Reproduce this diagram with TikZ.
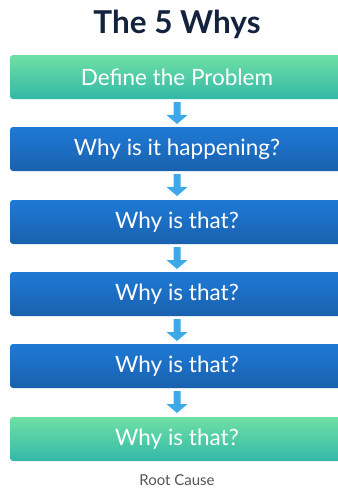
\documentclass[tikz,border=0pt]{standalone}
\usepackage{fontspec}
\setmainfont{Lato}
\usetikzlibrary{positioning}
\definecolor{navy}{HTML}{13233D}
\definecolor{gtop}{HTML}{6FE0A5}
\definecolor{gbot}{HTML}{33B8A8}
\definecolor{btop}{HTML}{1E7AD6}
\definecolor{bbot}{HTML}{1A61AE}
\definecolor{arr}{HTML}{3DA9E8}
\definecolor{greytext}{HTML}{555555}
\tikzset{
  greenbox/.style={rounded corners=3pt, top color=gtop, bottom color=gbot, draw=none},
  bluebox/.style={rounded corners=3pt, top color=btop, bottom color=bbot, draw=none},
  boxtext/.style={text=white, font=\fontsize{22.5}{26}\selectfont},
  arrowshape/.style={fill=arr, draw=none},
}
\begin{document}
\begin{tikzpicture}[x=1pt,y=-1pt]
\useasboundingbox (0,0) rectangle (338,491);
\clip (0,0) rectangle (338,491);
\node[font=\fontsize{31.5}{36}\selectfont\bfseries, text=navy] (title) at (177,24) {The 5 Whys};
% boxes
\foreach \i/\t/\s/\txt in {1/55/greenbox/Define the Problem,
                            2/127/bluebox/Why is it happening?,
                            3/200/bluebox/Why is that?,
                            4/272/bluebox/Why is that?,
                            5/344/bluebox/Why is that?,
                            6/417/greenbox/Why is that?}{
  \path[\s] (10,\t) rectangle (345,\t+44);
  \node[boxtext] (b\i) at (177,\t+22) {\txt};
}
% arrows
\foreach \t in {99,171,244,316,388}{
  \fill[arrowshape] (173.5,\t+3) -- (180.5,\t+3) -- (180.5,\t+16) -- (187.5,\t+16)
     -- (177,\t+25) -- (166.5,\t+16) -- (173.5,\t+16) -- cycle;
}
\node[font=\fontsize{15}{18}\selectfont, text=greytext] (root) at (177,480) {Root Cause};
\end{tikzpicture}
\end{document}
